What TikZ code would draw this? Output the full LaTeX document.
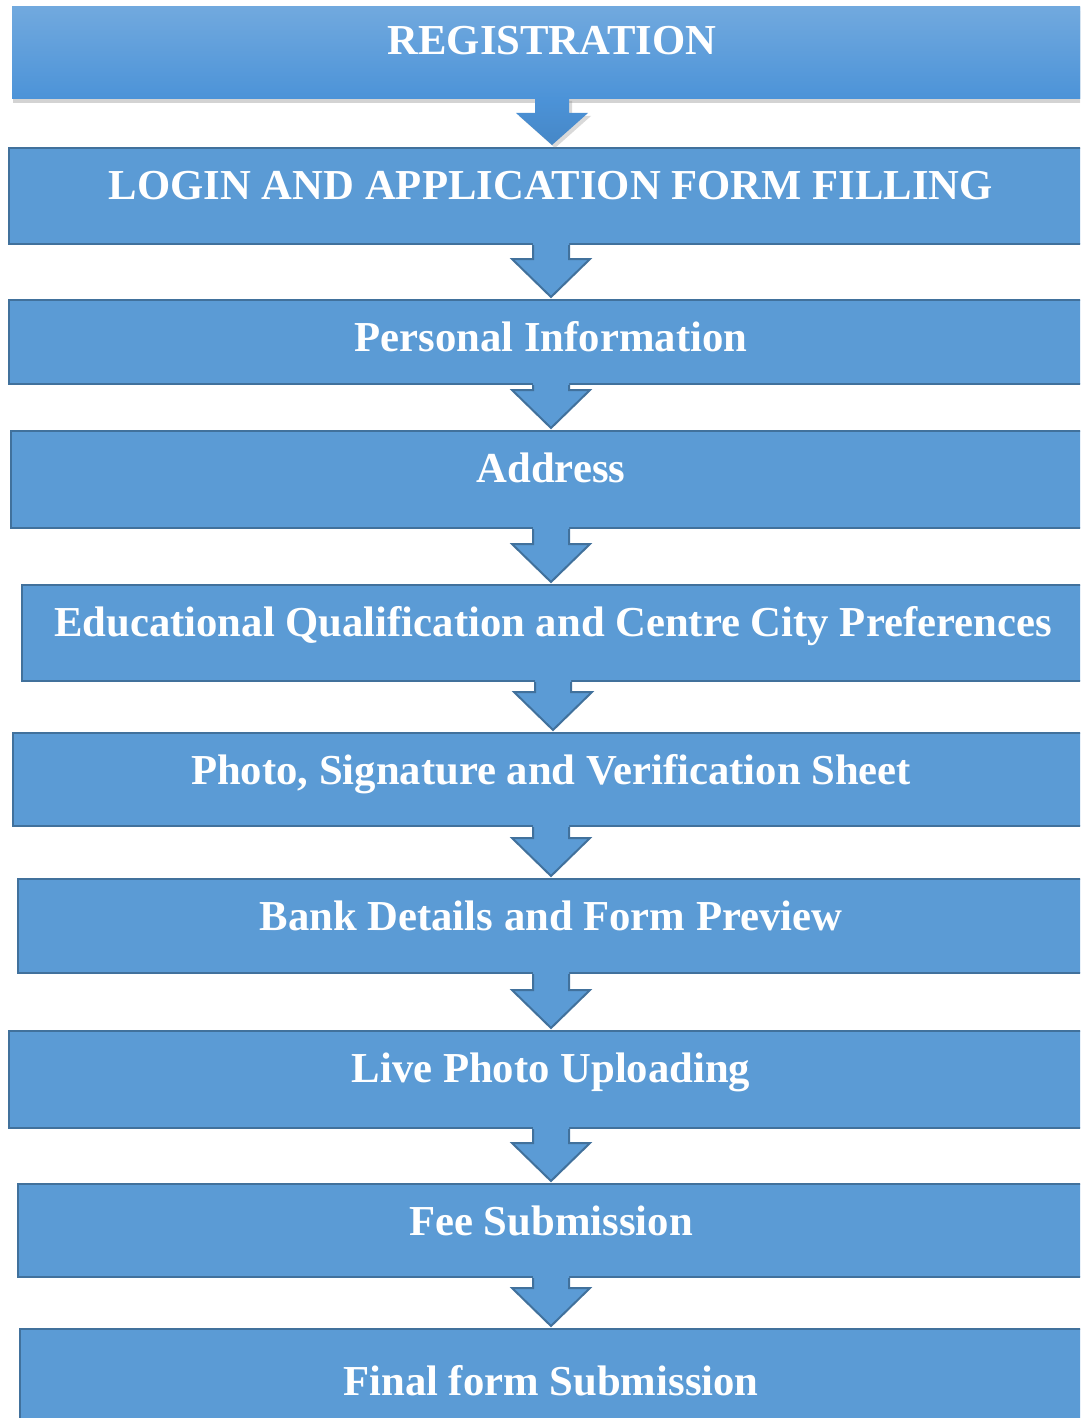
\documentclass[tikz,border=0pt]{standalone}
\usepackage{fontspec}
\setmainfont{Liberation Serif}
\usetikzlibrary{calc,shadows}
\definecolor{boxblue}{HTML}{5B9BD5}
\definecolor{boxline}{HTML}{41719C}
\definecolor{regtop}{HTML}{71A9DE}
\definecolor{regbottom}{HTML}{4C93D8}

\begin{document}
\begin{tikzpicture}[x=1pt,y=-1pt,
  stepbox/.style={draw=boxline,fill=boxblue,line width=2pt,anchor=north,inner sep=0pt,
    text=white,font=\fontsize{42.7}{50}\selectfont\bfseries,text height=51pt},
  flowarrow/.style={fill=boxblue},
  flowedge/.style={draw=boxline,line width=2pt,line join=miter}]
\useasboundingbox (0,0) rectangle (1080,1418);
\clip (0,0) rectangle (1080,1418);

%first step, shaded
\node[stepbox,draw=none,top color=regtop,bottom color=regbottom,
  drop shadow={shadow xshift=1pt,shadow yshift=-4pt,opacity=.35},
  minimum width=1080pt,text height=48pt,text depth=44pt] (reg) at (552,6) {REGISTRATION};

%steps
\node[stepbox,minimum width=1084pt,text depth=45pt] (login) at (551,147) {LOGIN AND APPLICATION FORM FILLING};
\node[stepbox,minimum width=1084pt,text depth=33pt] (pers) at (551,299) {Personal Information};
\node[stepbox,minimum width=1080pt,text depth=46pt] (addr) at (551,430) {Address};
\node[stepbox,minimum width=1062pt,text depth=45pt] (edu) at (553,584) {Educational Qualification and Centre City Preferences};
\node[stepbox,minimum width=1076pt,text depth=42pt] (photo) at (551,732) {Photo, Signature and Verification Sheet};
\node[stepbox,minimum width=1066pt,text depth=43pt] (bank) at (551,878) {Bank Details and Form Preview};
\node[stepbox,minimum width=1084pt,text depth=46pt] (live) at (551,1030) {Live Photo Uploading};
\node[stepbox,minimum width=1066pt,text depth=42pt] (fee) at (551,1183) {Fee Submission};
\node[stepbox,minimum width=1062pt,text height=66pt,text depth=50pt] (final) at (551,1328) {Final form Submission};

%first arrow, shaded
\shade[top color=regbottom,bottom color=regbottom!92!black,
  drop shadow={shadow xshift=3pt,shadow yshift=-3pt,opacity=.3}]
  ($(reg.south)+(-17,-2)$) -- ($(reg.south |- login.north)+(-17,-34)$)
  -- ($(reg.south |- login.north)+(-36,-34)$) -- ($(reg.south |- login.north)+(0,-2)$)
  -- ($(reg.south |- login.north)+(36,-34)$) -- ($(reg.south |- login.north)+(17,-34)$)
  -- ($(reg.south)+(17,-2)$) -- cycle;

%block arrows
\foreach \a/\b in {login/pers,pers/addr,addr/edu,edu/photo,photo/bank,bank/live,live/fee,fee/final}{
  \fill[flowarrow] ($(\a.south)+(-18,-2)$) -- ($(\a.south |- \b.north)+(-18,-40)$)
    -- ($(\a.south |- \b.north)+(-39,-40)$) -- ($(\a.south |- \b.north)+(0,-2)$)
    -- ($(\a.south |- \b.north)+(39,-40)$) -- ($(\a.south |- \b.north)+(18,-40)$)
    -- ($(\a.south)+(18,-2)$) -- cycle;
  \draw[flowedge] ($(\a.south)+(-18,0)$) -- ($(\a.south |- \b.north)+(-18,-40)$)
    -- ($(\a.south |- \b.north)+(-39,-40)$) -- ($(\a.south |- \b.north)+(0,-2)$)
    -- ($(\a.south |- \b.north)+(39,-40)$) -- ($(\a.south |- \b.north)+(18,-40)$)
    -- ($(\a.south)+(18,0)$);
}
\end{tikzpicture}
\end{document}
